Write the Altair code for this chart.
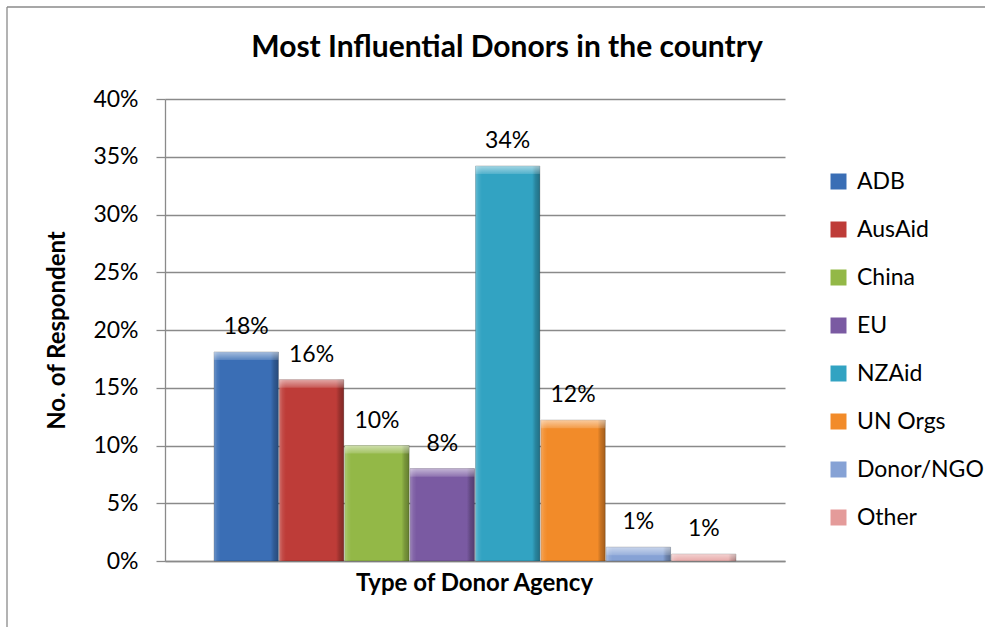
import altair as alt
import pandas as pd

# Share of respondents naming each donor as most influential
donors = ["ADB", "AusAid", "China", "EU", "NZAid", "UN Orgs", "Donor/NGO", "Other"]
shares = [0.181, 0.157, 0.100, 0.080, 0.342, 0.122, 0.012, 0.006]
bar_colors = ["#3A6EB5", "#BE3C38", "#93B847", "#7A5AA2", "#32A3C2",
              "#F28B29", "#86A2D5", "#E49B9A"]
y_ticks = [0.0, 0.05, 0.10, 0.15, 0.20, 0.25, 0.30, 0.35, 0.40]

FONT = "Lato"
GREY = "#8a8a8a"

df = pd.DataFrame({"donor": donors, "share": shares})

x_scale = alt.Scale(domain=donors, paddingInner=0.015, paddingOuter=0.75)
y_scale = alt.Scale(domain=[0, 0.4], nice=False, zero=True)

x_axis = alt.Axis(
    title="Type of Donor Agency", labels=False, ticks=False,
    domain=True, domainColor=GREY, domainWidth=1.3, grid=False,
    titleX=309, titleY=29, titleAlign="center", titleBaseline="alphabetic",
    titleFont=FONT, titleFontSize=24, titleFontWeight="bold", titleColor="black",
)
y_axis = alt.Axis(
    title="No. of Respondent", values=y_ticks, format=".0%",
    grid=True, gridColor=GREY, gridWidth=1.3,
    domain=True, domainColor=GREY, domainWidth=1.3,
    ticks=True, tickSize=9, tickColor=GREY, tickWidth=1.3,
    labelFont=FONT, labelFontSize=23, labelColor="black", labelPadding=18,
    titleFont=FONT, titleFontSize=24, titleFontWeight="bold", titleColor="black",
    titleX=-108, titleY=231, titleAngle=-90, titleAlign="center",
    titleBaseline="middle",
)

x_enc = alt.X("donor:N", sort=donors, scale=x_scale, axis=x_axis)
y_enc = alt.Y("share:Q", scale=y_scale, axis=y_axis)

base = alt.Chart(df)

bars = base.mark_bar(stroke="rgba(0,0,0,0.25)", strokeWidth=0.8).encode(
    x=x_enc,
    y=y_enc,
    color=alt.Color(
        "donor:N", sort=donors,
        scale=alt.Scale(domain=donors, range=bar_colors),
        legend=alt.Legend(
            title=None, orient="none", legendX=662, legendY=71, padding=0,
            symbolType="square", symbolSize=256, symbolStrokeWidth=0,
            labelFont=FONT, labelFontSize=23, labelColor="black",
            labelOffset=7, rowPadding=24,
        ),
    ),
)

# Bevel shading: lit left edge, shaded right edge
side_shade = base.mark_bar(
    fill=alt.Gradient(
        gradient="linear", x1=0, y1=0, x2=1, y2=0,
        stops=[
            alt.GradientStop(color="rgba(255,255,255,0.25)", offset=0),
            alt.GradientStop(color="rgba(255,255,255,0.08)", offset=0.05),
            alt.GradientStop(color="rgba(255,255,255,0)", offset=0.1),
            alt.GradientStop(color="rgba(0,0,0,0)", offset=0.88),
            alt.GradientStop(color="rgba(0,0,0,0.18)", offset=0.93),
            alt.GradientStop(color="rgba(0,0,0,0.32)", offset=1),
        ],
    )
).encode(x=x_enc, y=y_enc)

# Bevel highlight along the top of each bar
top_shine = base.transform_calculate(
    lower="max(datum.share - 0.007, 0)"
).mark_bar(
    fill=alt.Gradient(
        gradient="linear", x1=0, y1=0, x2=0, y2=1,
        stops=[
            alt.GradientStop(color="rgba(255,255,255,0.55)", offset=0),
            alt.GradientStop(color="rgba(255,255,255,0.15)", offset=1),
        ],
    )
).encode(x=x_enc, y=y_enc, y2="lower:Q")

labels = base.mark_text(
    font=FONT, fontSize=23, color="black", baseline="alphabetic", dy=-18
).encode(x=x_enc, y=y_enc, text=alt.Text("share:Q", format=".0%"))

# Outer frame of the chart area
one_row = alt.Data(values=[{"k": 1}])
frame_top = alt.Chart(one_row).mark_rule(color=GREY, strokeWidth=1.3).encode(
    x=alt.value(-158), x2=alt.value(820), y=alt.value(-92)
)
frame_left = alt.Chart(one_row).mark_rule(color=GREY, strokeWidth=1.3).encode(
    x=alt.value(-158), y=alt.value(-92), y2=alt.value(540)
)

chart = alt.layer(
    bars, side_shade, top_shine, labels, frame_top, frame_left
).properties(
    width=620,
    height=462,
    padding={"left": 165, "top": 99, "right": 207, "bottom": 66},
    autosize=alt.AutoSizeParams(type="none"),
    title=alt.TitleParams(
        "Most Influential Donors in the country",
        font=FONT, fontSize=30, fontWeight="bold", color="black",
        anchor="middle", frame="group", offset=-81, baseline="alphabetic", dx=32,
    ),
).configure(background="white").configure_view(strokeWidth=0)

chart.save("out.html", embed_options={"renderer": "svg", "actions": False})
